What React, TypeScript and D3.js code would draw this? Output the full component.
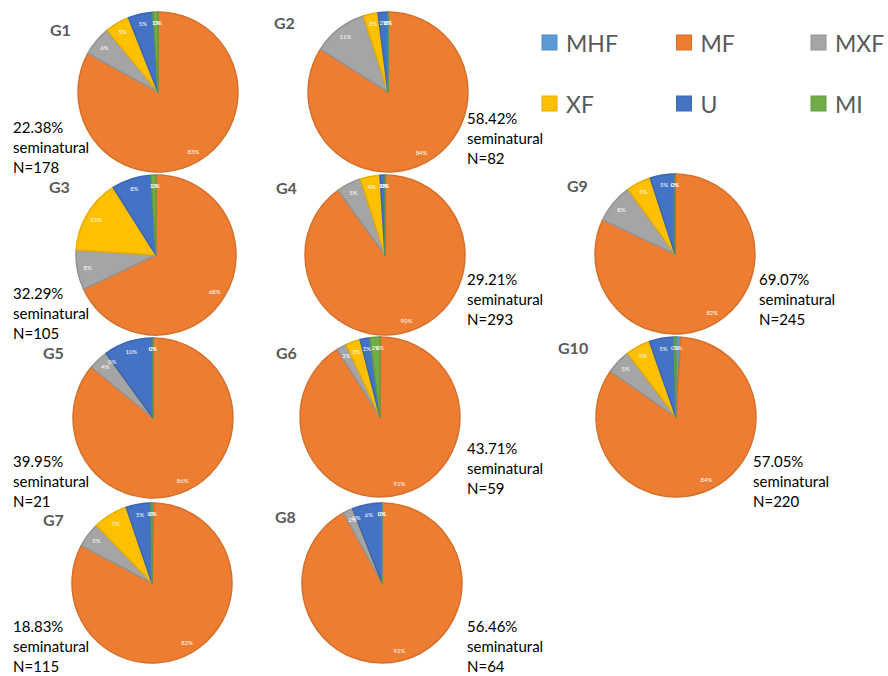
import React from "react";
import * as d3 from "d3";

const categories = ["MHF", "MF", "MXF", "XF", "U", "MI"];
const colors = ["#5B9BD5", "#ED7D31", "#A5A5A5", "#FFC000", "#4472C4", "#70AD47"];

const groups = ["G1", "G2", "G3", "G4", "G9", "G5", "G6", "G10", "G7", "G8"];
const g1 = [0, 83, 6, 5, 5, 1];
const g2 = [0, 84, 11, 3, 2, 0];
const g3 = [0, 68, 8, 15, 8, 1];
const g4 = [0, 90, 5, 4, 1, 0];
const g9 = [0, 82, 8, 5, 5, 0];
const g5 = [0, 86, 4, 0, 10, 0];
const g6 = [0, 91, 2, 3, 2, 2];
const g10 = [1, 84, 5, 5, 5, 0.4];
const g7 = [0.4, 82, 5, 7, 5, 0.2];
const g8 = [0, 92, 2, 0, 6, 0];
const groupValues = [g1, g2, g3, g4, g9, g5, g6, g10, g7, g8];
const seminatural = ["22.38%", "58.42%", "32.29%", "29.21%", "69.07%", "39.95%", "43.71%", "57.05%", "18.83%", "56.46%"];
const nCounts = ["N=178", "N=82", "N=105", "N=293", "N=245", "N=21", "N=59", "N=220", "N=115", "N=64"];

// layout: pie centre, title position, annotation position
const layout = [
  { cx: 158, cy: 92, tx: 50, ty: 36, ax: 13, ay: 133 },
  { cx: 388, cy: 92, tx: 274, ty: 29, ax: 467, ay: 124 },
  { cx: 156, cy: 255, tx: 49, ty: 193, ax: 13, ay: 299 },
  { cx: 385, cy: 255, tx: 276, ty: 194, ax: 467, ay: 285 },
  { cx: 675, cy: 254, tx: 567, ty: 192, ax: 759, ay: 285 },
  { cx: 153, cy: 418, tx: 43, ty: 359, ax: 13, ay: 467 },
  { cx: 380, cy: 417, tx: 276, ty: 359, ax: 467, ay: 454 },
  { cx: 676, cy: 417, tx: 558, ty: 354, ax: 753, ay: 467 },
  { cx: 152, cy: 583, tx: 43, ty: 526, ax: 13, ay: 632 },
  { cx: 382, cy: 583, tx: 275, ty: 523, ax: 467, ay: 632 },
];

const R = 80;
const font = "Lato, 'Open Sans', sans-serif";

export default function App() {
  const pie = d3.pie<number>().sort(null).value((d) => d);
  const arc = d3.arc<d3.PieArcDatum<number>>().innerRadius(0).outerRadius(R);
  const labelArc = d3.arc<d3.PieArcDatum<number>>().innerRadius(R * 0.87).outerRadius(R * 0.87);
  const color = d3.scaleOrdinal<string, string>().domain(categories).range(colors);

  return (
    <svg width={888} height={676} style={{ position: "absolute", left: 0, top: 0, background: "#fff" }}>
      {groups.map((g, gi) => {
        const L = layout[gi];
        const arcs = pie(groupValues[gi]);
        return (
          <g key={g}>
            <g transform={`translate(${L.cx},${L.cy})`}>
              {arcs.map((a, i) => (
                <path
                  key={i}
                  d={arc(a) || ""}
                  fill={color(categories[i])}
                  stroke={d3.color(color(categories[i]))!.darker(0.3).toString()}
                  strokeWidth={1.5}
                  strokeLinejoin="round"
                />
              ))}
              {arcs.map((a, i) => {
                const [x, y] = labelArc.centroid(a);
                return (
                  <text key={"l" + i} x={x} y={y} dy="0.35em" textAnchor="middle" fontSize={6} fill="#fff" fontFamily={font}>
                    {Math.round(a.data)}%
                  </text>
                );
              })}
            </g>
            <text x={L.tx} y={L.ty} fontSize={16} fontWeight="bold" fill="#595959" fontFamily={font}>
              {g}
            </text>
            <text fontSize={15} fill="#000" fontFamily={font}>
              <tspan x={L.ax} y={L.ay}>{seminatural[gi]}</tspan>
              <tspan x={L.ax} y={L.ay + 20}>seminatural</tspan>
              <tspan x={L.ax} y={L.ay + 40}>{nCounts[gi]}</tspan>
            </text>
          </g>
        );
      })}
      {categories.map((c, i) => {
        const col = i % 3;
        const row = Math.floor(i / 3);
        const x = 542 + col * 134.5;
        const y = 35 + row * 61;
        return (
          <g key={c}>
            <rect x={x} y={y} width={15} height={15} fill={colors[i]} stroke={d3.color(colors[i])!.darker(0.3).toString()} strokeWidth={1} />
            <text x={x + 24} y={y + 17} fontSize={23} fill="#595959" fontFamily={font}>
              {c}
            </text>
          </g>
        );
      })}
    </svg>
  );
}
